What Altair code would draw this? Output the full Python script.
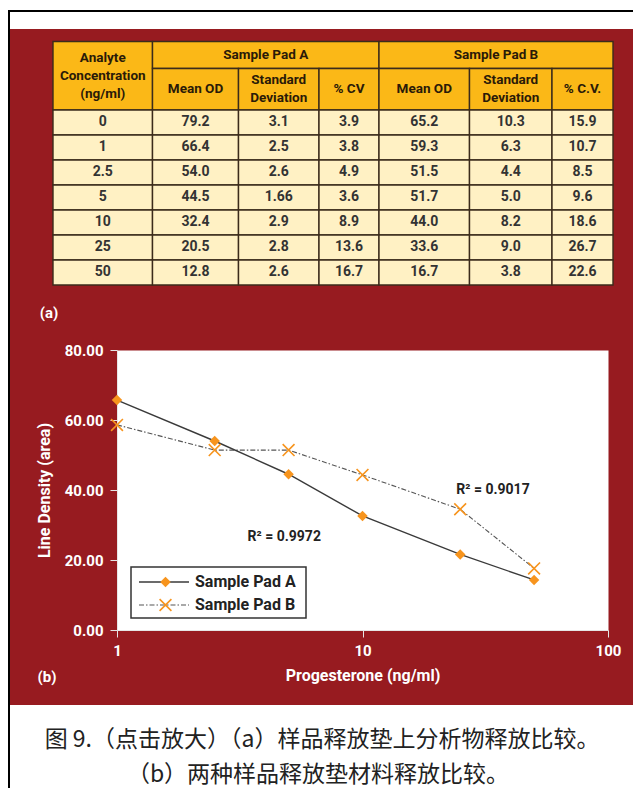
import altair as alt
import pandas as pd

# ---------------- data ----------------
conc = [1, 2.5, 5, 10, 25, 50]
pad_a = [65.7, 54.0, 44.5, 32.6, 21.6, 14.3]
pad_b = [58.6, 51.4, 51.4, 44.3, 34.5, 17.6]
series_names = ["Sample Pad A", "Sample Pad B"]

r2_labels = ["R² = 0.9972", "R² = 0.9017"]
r2_x = [4.8, 34.0]
r2_y = [26.6, 40.0]

x_ticks = [1, 10, 100]
y_ticks = [0, 20, 40, 60, 80]

table_conc = ["0", "1", "2.5", "5", "10", "25", "50"]
a_mean = ["79.2", "66.4", "54.0", "44.5", "32.4", "20.5", "12.8"]
a_sd = ["3.1", "2.5", "2.6", "1.66", "2.9", "2.8", "2.6"]
a_cv = ["3.9", "3.8", "4.9", "3.6", "8.9", "13.6", "16.7"]
b_mean = ["65.2", "59.3", "51.5", "51.7", "44.0", "33.6", "16.7"]
b_sd = ["10.3", "6.3", "4.4", "5.0", "8.2", "9.0", "3.8"]
b_cv = ["15.9", "10.7", "8.5", "9.6", "18.6", "26.7", "22.6"]

head_first = "Analyte\nConcentration\n(ng/ml)"
head_groups = ["Sample Pad A", "Sample Pad B"]
head_sub = ["Mean OD", "Standard\nDeviation", "% CV", "Mean OD", "Standard\nDeviation", "% C.V."]

panel_labels = ["(a)", "(b)"]
caption_lines = ["图 9.（点击放大）（a）样品释放垫上分析物释放比较。",
                 "（b）两种样品释放垫材料释放比较。"]

# ---------------- layout (page pixels) ----------------
FONT = "Roboto, Liberation Sans, sans-serif"
RED = "#971b20"
ORANGE = "#f7941d"
GOLD = "#fbb817"
PALE = "#fff1c4"
GRID = "#3b2b1b"

OX, OY = 117, 350          # page position of plot origin
W, H = 491, 280            # plot size
CANVAS_W, CANVAS_H = 625, 780
PAGE_R, PAGE_B = 8 + CANVAS_W, 8 + CANVAS_H
PAD = {"left": OX - 8, "top": OY - 8,
       "right": CANVAS_W - (OX - 8) - W, "bottom": CANVAS_H - (OY - 8) - H}


def rx(px):
    return px - OX


def ry(py):
    return py - OY


col_edges = [53, 152.5, 238.5, 319, 379, 469.5, 552, 613]
t_top, t_mid, t_head = 41.5, 68.5, 110
row_h = 25
HEAD_LH = 18

# ---------------- table frames ----------------
cells = []
texts = []


def head_text_row(x, yc, t):
    n = t.count("\n") + 1
    texts.append(dict(x=x, y=yc - (n - 1) * HEAD_LH / 2, t=t))


cells.append(dict(x1=col_edges[0], x2=col_edges[1], y1=t_top, y2=t_head, fill=GOLD))
head_text_row((col_edges[0] + col_edges[1]) / 2, (t_top + t_head) / 2, head_first)
for g, name in enumerate(head_groups):
    a, b = 1 + 3 * g, 4 + 3 * g
    cells.append(dict(x1=col_edges[a], x2=col_edges[b], y1=t_top, y2=t_mid, fill=GOLD))
    head_text_row((col_edges[a] + col_edges[b]) / 2, (t_top + t_mid) / 2, name)
for j, name in enumerate(head_sub):
    cells.append(dict(x1=col_edges[j + 1], x2=col_edges[j + 2], y1=t_mid, y2=t_head, fill=GOLD))
    head_text_row((col_edges[j + 1] + col_edges[j + 2]) / 2, (t_mid + t_head) / 2, name)
head_df = pd.DataFrame(texts)

body = []
columns = [table_conc, a_mean, a_sd, a_cv, b_mean, b_sd, b_cv]
for i in range(len(table_conc)):
    y1 = t_head + i * row_h
    for j, col in enumerate(columns):
        cells.append(dict(x1=col_edges[j], x2=col_edges[j + 1], y1=y1, y2=y1 + row_h, fill=PALE))
        body.append(dict(x=(col_edges[j] + col_edges[j + 1]) / 2, y=y1 + row_h / 2 - 1, t=col[i]))
cells_df = pd.DataFrame(cells)
body_df = pd.DataFrame(body)
cells_df["x1"] = cells_df["x1"].map(rx)
cells_df["x2"] = cells_df["x2"].map(rx)
cells_df["y1"] = cells_df["y1"].map(ry)
cells_df["y2"] = cells_df["y2"].map(ry)
for d in (head_df, body_df):
    d["x"] = d["x"].map(rx)
    d["y"] = d["y"].map(ry)

cell_rects = alt.Chart(cells_df).mark_rect(stroke=GRID, strokeWidth=1.4).encode(
    x=alt.X("x1:Q", scale=None, axis=None), x2="x2:Q",
    y=alt.Y("y1:Q", scale=None, axis=None), y2="y2:Q",
    fill=alt.Fill("fill:N", scale=None))
head_text = alt.Chart(head_df).mark_text(
    font=FONT, fontSize=13.5, fontWeight="bold", color="#2a1a08",
    lineBreak="\n", lineHeight=HEAD_LH, baseline="middle", align="center").encode(
    x=alt.X("x:Q", scale=None, axis=None), y=alt.Y("y:Q", scale=None, axis=None), text="t:N")
body_text = alt.Chart(body_df).mark_text(
    font=FONT, fontSize=14, fontWeight="bold", color="#333333",
    baseline="middle", align="center").encode(
    x=alt.X("x:Q", scale=None, axis=None), y=alt.Y("y:Q", scale=None, axis=None), text="t:N")

# ---------------- decoration ----------------
one = pd.DataFrame({"k": [0]})
top_strip = alt.Chart(one).mark_rect(color="white").encode(
    x=alt.value(rx(8)), x2=alt.value(rx(PAGE_R)), y=alt.value(ry(8)), y2=alt.value(ry(29)))
bottom_strip = alt.Chart(one).mark_rect(color="white").encode(
    x=alt.value(rx(10)), x2=alt.value(rx(PAGE_R)), y=alt.value(ry(705)), y2=alt.value(ry(PAGE_B)))
top_line = alt.Chart(one).mark_rule(color="black", strokeWidth=2).encode(
    x=alt.value(rx(8)), x2=alt.value(rx(PAGE_R)), y=alt.value(ry(11)))
left_line = alt.Chart(one).mark_rule(color="black", strokeWidth=2).encode(
    x=alt.value(rx(9)), y=alt.value(ry(10)), y2=alt.value(ry(PAGE_B)))

lab_df = pd.DataFrame({"t": panel_labels, "x": [rx(49), rx(47)], "y": [ry(313), ry(677)]})
panel_text = alt.Chart(lab_df).mark_text(
    font=FONT, fontSize=15, fontWeight="bold", color="white", align="center", baseline="middle").encode(
    x=alt.X("x:Q", scale=None, axis=None), y=alt.Y("y:Q", scale=None, axis=None), text="t:N")

cap_df = pd.DataFrame({"t": caption_lines, "x": [rx(322), rx(318)], "y": [ry(740), ry(775)]})
caption = alt.Chart(cap_df).mark_text(
    font="Noto Sans CJK SC", fontSize=23, color="#222222", align="center", baseline="middle").encode(
    x=alt.X("x:Q", scale=None, axis=None), y=alt.Y("y:Q", scale=None, axis=None), text="t:N")

# ---------------- line chart ----------------
df_a = pd.DataFrame({"conc": conc, "value": pad_a})
df_b = pd.DataFrame({"conc": conc, "value": pad_b})

X = alt.X("conc:Q", scale=alt.Scale(type="log", domain=[1, 100]),
          axis=alt.Axis(values=x_ticks, format="d", title="Progesterone (ng/ml)", grid=False,
                        labelFont=FONT, labelFontSize=15, labelFontWeight="bold", labelColor="white",
                        titleFont=FONT, titleFontSize=16, titleFontWeight="bold", titleColor="white",
                        tickColor="#e6e6e6", domainColor="#e6e6e6", tickSize=7,
                        labelPadding=6, titlePadding=9, labelFlush=False))
Y = alt.Y("value:Q", scale=alt.Scale(domain=[0, 80]),
          axis=alt.Axis(values=y_ticks, format=".2f", title="Line Density (area)", grid=False,
                        labelFont=FONT, labelFontSize=15, labelFontWeight="bold", labelColor="white",
                        titleFont=FONT, titleFontSize=16, titleFontWeight="bold", titleColor="white",
                        tickColor="#e6e6e6", domainColor="#e6e6e6", tickSize=7,
                        labelPadding=7, titlePadding=12))

XMARK = "M-1,-1L1,1M1,-1L-1,1"
DASH = [5, 2, 1.5, 2]

line_a = alt.Chart(df_a).mark_line(color="#3a3a3a", strokeWidth=1.4).encode(x=X, y=Y)
line_b = alt.Chart(df_b).mark_line(color="#555555", strokeWidth=1.1, strokeDash=DASH).encode(x=X, y=Y)
pts_a = alt.Chart(df_a).mark_point(shape="diamond", filled=True, color=ORANGE, size=110, opacity=1).encode(x=X, y=Y)
pts_b = alt.Chart(df_b).mark_point(shape=XMARK, filled=False, color=ORANGE, strokeWidth=1.6,
                                   size=140, opacity=1).encode(x=X, y=Y)

r2_df = pd.DataFrame({"conc": r2_x, "value": r2_y, "t": r2_labels})
r2_text = alt.Chart(r2_df).mark_text(font=FONT, fontSize=14, fontWeight="bold", color="#222222",
                                     align="center", baseline="middle").encode(x=X, y=Y, text="t:N")

# ---------------- legend (drawn) ----------------
leg_box = alt.Chart(one).mark_rect(fill="white", stroke="#333333", strokeWidth=1.5).encode(
    x=alt.value(rx(131)), x2=alt.value(rx(306)), y=alt.value(ry(567)), y2=alt.value(ry(618)))
leg_df = pd.DataFrame({"name": series_names,
                       "x1": [rx(139)] * 2, "x2": [rx(189)] * 2, "xm": [rx(165.5)] * 2,
                       "xt": [rx(195)] * 2, "y": [ry(582), ry(605)]})
leg_a = leg_df.iloc[[0]]
leg_b = leg_df.iloc[[1]]
leg_line_a = alt.Chart(leg_a).mark_rule(color="#3a3a3a", strokeWidth=1.4).encode(
    x=alt.X("x1:Q", scale=None, axis=None), x2="x2:Q", y=alt.Y("y:Q", scale=None, axis=None))
leg_line_b = alt.Chart(leg_b).mark_rule(color="#555555", strokeWidth=1.1, strokeDash=DASH).encode(
    x=alt.X("x1:Q", scale=None, axis=None), x2="x2:Q", y=alt.Y("y:Q", scale=None, axis=None))
leg_pt_a = alt.Chart(leg_a).mark_point(shape="diamond", filled=True, color=ORANGE, size=110, opacity=1).encode(
    x=alt.X("xm:Q", scale=None, axis=None), y=alt.Y("y:Q", scale=None, axis=None))
leg_pt_b = alt.Chart(leg_b).mark_point(shape=XMARK, filled=False, color=ORANGE, strokeWidth=1.6,
                                       size=140, opacity=1).encode(
    x=alt.X("xm:Q", scale=None, axis=None), y=alt.Y("y:Q", scale=None, axis=None))
leg_text = alt.Chart(leg_df).mark_text(font=FONT, fontSize=16, fontWeight="bold", color="#222222",
                                       align="left", baseline="middle").encode(
    x=alt.X("xt:Q", scale=None, axis=None), y=alt.Y("y:Q", scale=None, axis=None), text="name:N")

chart = alt.layer(
    top_strip, bottom_strip, top_line, left_line,
    cell_rects, head_text, body_text, panel_text, caption,
    line_b, line_a, pts_b, pts_a, r2_text,
    leg_box, leg_line_a, leg_line_b, leg_pt_a, leg_pt_b, leg_text,
).properties(
    width=W, height=H,
    autosize=alt.AutoSizeParams(type="none"),
    padding=PAD,
    background=RED,
).configure_view(fill="white", stroke="transparent")

chart.save("out.html", embed_options={"renderer": "svg", "actions": False})
